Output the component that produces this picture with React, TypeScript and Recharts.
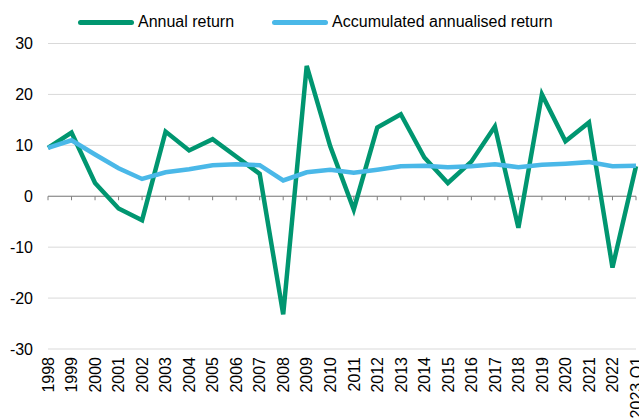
import React from 'react';
import { LineChart, Line, XAxis, YAxis, CartesianGrid, Legend, ReferenceLine } from 'recharts';

const categories = ['1998','1999','2000','2001','2002','2003','2004','2005','2006','2007','2008','2009','2010','2011','2012','2013','2014','2015','2016','2017','2018','2019','2020','2021','2022','2023 Q1'];
const annualReturn = [9.5, 12.5, 2.6, -2.4, -4.7, 12.7, 9.0, 11.2, 7.8, 4.4, -23.2, 25.6, 9.8, -2.6, 13.5, 16.1, 7.6, 2.6, 6.8, 13.7, -6.2, 20.0, 10.8, 14.5, -14.0, 5.9];
const accumulatedReturn = [9.5, 11.0, 8.2, 5.5, 3.4, 4.7, 5.3, 6.1, 6.3, 6.1, 3.1, 4.7, 5.2, 4.6, 5.2, 5.9, 6.0, 5.7, 5.9, 6.3, 5.7, 6.2, 6.4, 6.7, 5.9, 6.0];
const yTicks = [-30, -20, -10, 0, 10, 20, 30];
const seriesNames = ['Annual return', 'Accumulated annualised return'];

const data = categories.map((c, i) => ({ name: c, annual: annualReturn[i], accum: accumulatedReturn[i] }));

const GREEN = '#009670';
const BLUE = '#4ab8e8';
const seriesColors = [GREEN, BLUE];
const FONT = '"Liberation Sans", Arial, sans-serif';

const XTick = (props: any) => {
  const { x, y, payload } = props;
  return (
    <text x={x} y={y} dy="0.36em" transform={`rotate(-90, ${x}, ${y})`} textAnchor="end" fontSize={16} fill="#000" fontFamily={FONT}>
      {payload.value}
    </text>
  );
};

const ZeroLine = (props: any) => {
  const { x1, y1, x2, y2 } = props;
  if (x1 == null) return null;
  const n = categories.length;
  return (
    <g>
      <line x1={x1} y1={y1} x2={x2} y2={y2} stroke="#808080" strokeWidth={1} />
      {categories.map((c, i) => {
        const tx = x1 + (i * (x2 - x1)) / (n - 1);
        return <line key={c} x1={tx} y1={y1} x2={tx} y2={y1 + 4} stroke="#808080" strokeWidth={1} />;
      })}
    </g>
  );
};

const renderLegend = () => {
  return (
    <div style={{ display: 'flex', height: 24, alignItems: 'center', fontFamily: FONT, fontSize: 16, color: '#000' }}>
      {seriesNames.map((name, i) => (
        <div key={name} style={{ display: 'flex', alignItems: 'center', marginRight: 38 }}>
          <div style={{ width: 56, height: 5, borderRadius: 3, background: seriesColors[i], marginRight: 4 }} />
          <span>{name}</span>
        </div>
      ))}
    </div>
  );
};

export default function App() {
  return (
    <div style={{ position: 'absolute', left: 0, top: 0, width: 639, height: 419, overflow: 'hidden' }}>
      <LineChart width={639} height={419} data={data} margin={{ top: 19.5, right: 3, left: 8, bottom: 0 }}>
        <CartesianGrid vertical={false} stroke="#d9d9d9" strokeWidth={1} />
        <XAxis dataKey="name" axisLine={false} tickLine={false} interval={0} height={70} tick={<XTick />} />
        <YAxis domain={[-30, 30]} ticks={yTicks} axisLine={false} tickLine={false} width={40} tickMargin={9}
          tick={{ fontSize: 16, fill: '#000', fontFamily: FONT }} />
        <ReferenceLine y={0} shape={<ZeroLine />} />
        <Legend verticalAlign="top" align="left" height={24} wrapperStyle={{ top: 10, left: 78 }} content={renderLegend} />
        <Line type="linear" dataKey="annual" name={seriesNames[0]} stroke={GREEN} strokeWidth={4.5} dot={false} isAnimationActive={false} />
        <Line type="linear" dataKey="accum" name={seriesNames[1]} stroke={BLUE} strokeWidth={4.5} dot={false} isAnimationActive={false} />
      </LineChart>
    </div>
  );
}
